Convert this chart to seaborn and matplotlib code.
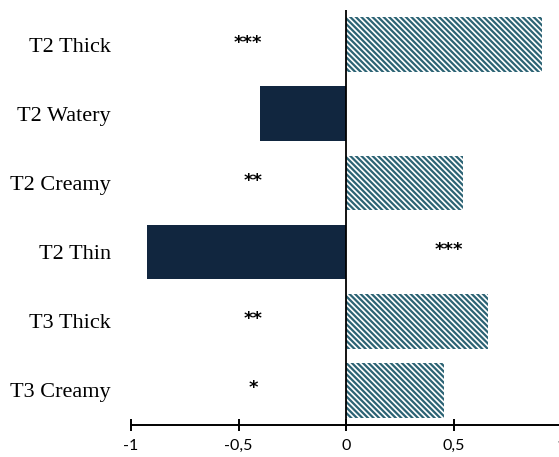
import numpy as np
import pandas as pd
import seaborn as sns
import matplotlib.pyplot as plt

categories = ['T2 Thick', 'T2 Watery', 'T2 Creamy', 'T2 Thin', 'T3 Thick', 'T3 Creamy']
values = [0.91, -0.40, 0.545, -0.925, 0.66, 0.455]
stars = ['***', '', '**', '***', '**', '*']
star_x = [-0.455, 0, -0.43, 0.48, -0.43, -0.43]
xticks = [-1, -0.5, 0, 0.5, 1]
xtick_labels = ['-1', '-0,5', '0', '0,5', '1']

navy = '#11263F'
teal = '#2C6374'

sns.set_style('white')
plt.rcParams['hatch.linewidth'] = 1.6
plt.rcParams['text.color'] = 'black'
plt.rcParams['xtick.color'] = 'black'
plt.rcParams['ytick.color'] = 'black'

df = pd.DataFrame({'cat': categories, 'val': values})
colors = {c: (teal if v > 0 else navy) for c, v in zip(categories, values)}

fig = plt.figure(figsize=(5.59, 4.57), dpi=100)
ax = fig.add_axes([131 / 559, 1 - 425 / 457, 430 / 559, 415 / 457])

sns.barplot(data=df, x='val', y='cat', hue='cat', palette=colors, legend=False,
            width=0.79, orient='h', ax=ax, saturation=1)

# positive bars are hatched, negative solid
for patch, v in zip(ax.patches, values):
    if v > 0:
        patch.set_facecolor('white')
        patch.set_edgecolor(teal)
        patch.set_hatch('\\' * 6)
        patch.set_linewidth(0)
    else:
        patch.set_facecolor(navy)
        patch.set_edgecolor(navy)
        patch.set_linewidth(0)

for i, (s, sx) in enumerate(zip(stars, star_x)):
    if s:
        ax.text(sx, i - 0.03, s, ha='center', va='center', fontsize=13,
                fontweight='bold', family='DejaVu Sans')

ax.axvline(0, color='black', lw=1.3, zorder=5)
ax.set_xlim(-1, 1)
ax.set_ylim(5.5, -0.5)
ax.set_xticks(xticks)
ax.set_xticklabels(xtick_labels, family='Lato', fontsize=11.5)
ax.set_yticks(range(len(categories)))
ax.set_yticklabels(categories, family='Liberation Serif', fontsize=16)
ax.tick_params(axis='y', length=0, pad=14.5)
ax.tick_params(axis='x', bottom=True, direction='inout', length=8, width=1.4,
               color='black', pad=6)
ax.set_xlabel('')
ax.set_ylabel('')
for side in ['left', 'right', 'top']:
    ax.spines[side].set_visible(False)
ax.spines['bottom'].set_color('black')
ax.spines['bottom'].set_linewidth(1.4)

fig.savefig('out.png', dpi=100)
